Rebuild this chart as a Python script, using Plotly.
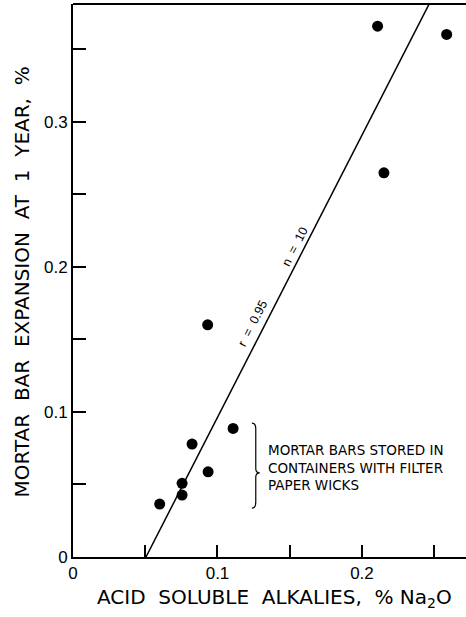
import plotly.graph_objects as go

# Data
acid_alkali = [0.0932, 0.1108, 0.0824, 0.0935, 0.0755, 0.0755, 0.0600, 0.2108, 0.2586, 0.2152]
expansion = [0.160, 0.0886, 0.0778, 0.0587, 0.0508, 0.0427, 0.0365, 0.3657, 0.360, 0.2647]

fit_x = [0.0505, 0.2520]
fit_y = [0.0, 0.3917]

x_ticks = [0, 0.1, 0.2]
x_tick_labels = ["0", "0.1", "0.2"]
y_ticks = [0, 0.1, 0.2, 0.3]
y_tick_labels = ["0", "0.1", "0.2", "0.3"]

FONT = "Liberation Sans, Arial, Helvetica, sans-serif"
WFONT = "DejaVu Sans, Liberation Sans, Arial, sans-serif"

W, H = 466, 617
ml, mr, mt, mb = 73, 0, 4, 60
pw, ph = W - ml - mr, H - mt - mb

fig = go.Figure()
fig.add_trace(go.Scatter(x=fit_x, y=fit_y, mode="lines",
                         line=dict(color="black", width=1.5),
                         showlegend=False))
fig.add_trace(go.Scatter(x=acid_alkali, y=expansion, mode="markers",
                         marker=dict(color="black", size=11),
                         showlegend=False, cliponaxis=False))

# curly brace "}" next to low points
bx, btop, bbot, bmid = 0.1265, 0.0923, 0.0337, 0.058
c = 0.0027
path = (f"M {bx-c},{btop} Q {bx},{btop} {bx},{btop-0.004} "
        f"L {bx},{bmid+0.003} Q {bx},{bmid} {bx+c},{bmid} "
        f"Q {bx},{bmid} {bx},{bmid-0.003} "
        f"L {bx},{bbot+0.004} Q {bx},{bbot} {bx-c},{bbot}")
fig.add_shape(type="path", path=path, xref="x", yref="y",
              line=dict(color="black", width=1.2))

sp = "&nbsp; "
fig.add_annotation(x=0.1335, y=0.062, xref="x", yref="y", xanchor="left", yanchor="middle",
                   align="left", showarrow=False,
                   text="MORTAR BARS STORED IN<br>CONTAINERS WITH FILTER<br>PAPER WICKS",
                   font=dict(size=13.5, color="black", family=WFONT))
fig.add_annotation(x=0.1247, y=0.161, xref="x", yref="y", showarrow=False, textangle=-63,
                   text="r&nbsp; =&nbsp; 0.95", font=dict(size=12.5, color="black", family=FONT))
fig.add_annotation(x=0.1535, y=0.2137, xref="x", yref="y", showarrow=False, textangle=-63,
                   text="n&nbsp; =&nbsp; 10", font=dict(size=12.5, color="black", family=FONT))
fig.add_annotation(xref="paper", yref="paper", x=(274 - ml) / pw, y=(H - mb - 598) / ph,
                   xanchor="center", yanchor="middle", showarrow=False,
                   text=f"ACID{sp}SOLUBLE{sp}ALKALIES,{sp}% Na<sub>2</sub>O",
                   font=dict(size=20, color="black", family=WFONT))
fig.add_annotation(xref="paper", yref="paper", x=(21.5 - ml) / pw, y=(H - mb - 282) / ph,
                   xanchor="center", yanchor="middle", showarrow=False, textangle=-90,
                   text=f"MORTAR{sp}BAR{sp}EXPANSION{sp}AT{sp}1{sp}YEAR,{sp}%",
                   font=dict(size=20, color="black", family=WFONT))

fig.update_xaxes(range=[0, 0.272], tickvals=x_ticks, ticktext=x_tick_labels,
                 ticks="inside", ticklen=12, tickwidth=1.5, tickcolor="black",
                 minor=dict(dtick=0.05, tick0=0, ticks="inside", ticklen=12,
                            tickwidth=1.5, tickcolor="black"),
                 showline=True, linecolor="black", linewidth=2,
                 showgrid=False, zeroline=False,
                 tickfont=dict(size=17, color="black", family=FONT))
fig.update_yaxes(range=[0, 0.381], tickvals=y_ticks, ticktext=y_tick_labels,
                 ticks="inside", ticklen=13, tickwidth=1.5, tickcolor="black",
                 minor=dict(dtick=0.05, tick0=0, ticks="inside", ticklen=13,
                            tickwidth=1.5, tickcolor="black"),
                 showline=True, linecolor="black", linewidth=2,
                 showgrid=False, zeroline=False,
                 tickfont=dict(size=17, color="black", family=FONT))
# top border line
fig.add_shape(type="line", xref="paper", yref="paper", x0=0, x1=1, y0=1, y1=1,
              line=dict(color="black", width=2))

fig.update_layout(width=W, height=H, margin=dict(l=ml, r=mr, t=mt, b=mb),
                  paper_bgcolor="white", plot_bgcolor="white",
                  font=dict(family=FONT, color="black"))
fig.write_html("out.html", config={"displayModeBar": False},
               post_script="document.body.style.margin='0';document.body.style.padding='0';")
